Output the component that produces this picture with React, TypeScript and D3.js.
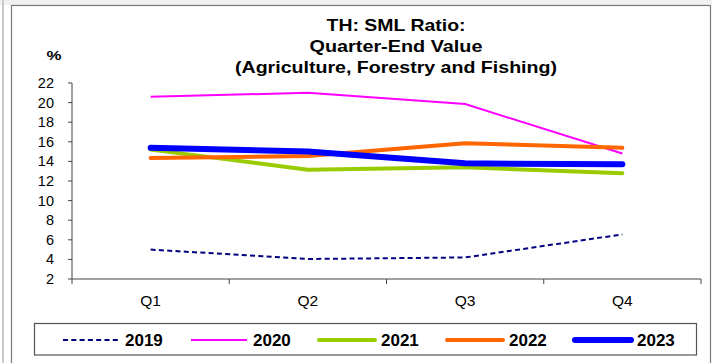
import React from "react";
import * as d3 from "d3";

const quarters = ["Q1", "Q2", "Q3", "Q4"];
const years = ["2019", "2020", "2021", "2022", "2023"];
const s2019 = [5.0, 4.04, 4.2, 6.55];
const s2020 = [20.6, 21.0, 19.85, 14.8];
const s2021 = [15.2, 13.15, 13.4, 12.8];
const s2022 = [14.35, 14.55, 15.85, 15.4];
const s2023 = [15.4, 15.0, 13.8, 13.7];
const yTicks = [2, 4, 6, 8, 10, 12, 14, 16, 18, 20, 22];
const titleLines = ["TH: SML Ratio:", "Quarter-End Value", "(Agriculture, Forestry and Fishing)"];

const seriesValues = [s2019, s2020, s2021, s2022, s2023];
const styles = [
  { color: "#000080", width: 2, dash: "5,3.3", cap: "butt" },
  { color: "#FF00FF", width: 2, dash: null, cap: "butt" },
  { color: "#99CC00", width: 4, dash: null, cap: "round" },
  { color: "#FF6600", width: 4, dash: null, cap: "round" },
  { color: "#0000FF", width: 6, dash: null, cap: "round" },
];

export default function App() {
  const W = 712, H = 363;
  const x = d3.scaleBand().domain(quarters).range([72, 701]);
  const y = d3.scaleLinear().domain([2, 22]).range([279, 83]);
  const line = d3
    .line<number>()
    .x((_, i) => (x(quarters[i]) as number) + x.bandwidth() / 2)
    .y((d) => y(d));
  const font = "'Liberation Sans', Arial, sans-serif";
  const titleWidths = [139, 173, 322];
  const titleY = [31, 52, 72.5];
  const xTickPos = [72, ...quarters.map((q) => (x(q) as number) + x.bandwidth())];
  const legendStart = 63;
  const legendStep = 128;

  return (
    <svg width={W} height={H} style={{ position: "absolute", left: 0, top: 0 }} fontFamily={font}>
      <rect x={0} y={0} width={W} height={H} fill="#fff" />
      <rect x={0} y={0} width={W} height={5} fill="#f0f0f0" />
      <line x1={3} y1={0} x2={3} y2={H} stroke="#c8c8c8" strokeWidth={2} />
      <rect x={11.5} y={5.5} width={699} height={H + 10} fill="#fff" stroke="#7a7a7a" strokeWidth={1.2} />

      {titleLines.map((t, i) => (
        <text
          key={t}
          x={396}
          y={titleY[i]}
          textAnchor="middle"
          fontWeight="bold"
          fontSize={16.5}
          textLength={titleWidths[i]}
          lengthAdjust="spacingAndGlyphs"
          fill="#000"
        >
          {t}
        </text>
      ))}
      <text x={54} y={60} textAnchor="middle" fontWeight="bold" fontSize={13} textLength={15} lengthAdjust="spacingAndGlyphs">
        %
      </text>

      {/* Y axis */}
      <line x1={72} y1={83} x2={72} y2={279} stroke="#444" strokeWidth={1} />
      {yTicks.map((t) => (
        <g key={t}>
          <line x1={68} x2={72} y1={y(t)} y2={y(t)} stroke="#444" />
          <text x={54} y={y(t)} dy="0.35em" textAnchor="end" fontSize={14.5} fill="#000">
            {t}
          </text>
        </g>
      ))}

      {/* X axis */}
      <line x1={72} y1={279} x2={701} y2={279} stroke="#444" />
      {xTickPos.map((p, i) => (
        <line key={i} x1={p} x2={p} y1={279} y2={284} stroke="#444" />
      ))}
      {quarters.map((q) => (
        <text key={q} x={(x(q) as number) + x.bandwidth() / 2} y={306} textAnchor="middle" fontSize={15.5} fill="#000">
          {q}
        </text>
      ))}

      {/* Series */}
      {seriesValues.map((vals, i) => (
        <path
          key={years[i]}
          d={line(vals) as string}
          fill="none"
          stroke={styles[i].color}
          strokeWidth={styles[i].width}
          strokeDasharray={styles[i].dash ?? undefined}
          strokeLinecap={styles[i].cap as any}
          strokeLinejoin="round"
        />
      ))}

      {/* Legend */}
      <rect x={34.5} y={323.5} width={662} height={31.5} fill="#fff" stroke="#555" strokeWidth={1.2} />
      {years.map((yr, i) => {
        const lx = legendStart + i * legendStep;
        const st = styles[i];
        return (
          <g key={yr}>
            <line
              x1={lx}
              x2={lx + 56}
              y1={340}
              y2={340}
              stroke={st.color}
              strokeWidth={st.width}
              strokeDasharray={st.dash ?? undefined}
              strokeLinecap={st.cap as any}
            />
            <text x={lx + 62} y={340} dy="0.36em" fontSize={17} fontWeight="bold" fill="#000">
              {yr}
            </text>
          </g>
        );
      })}
    </svg>
  );
}
